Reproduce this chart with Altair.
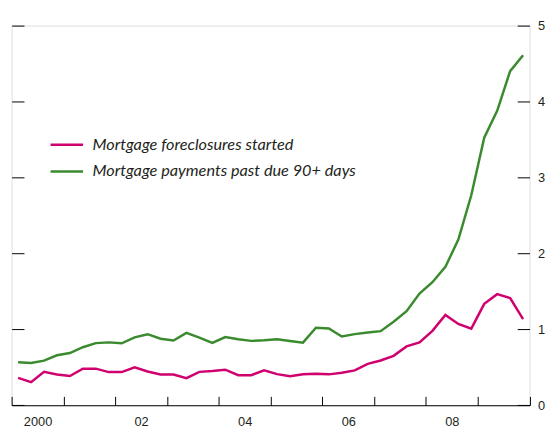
import altair as alt
import pandas as pd

quarters = [f"{y}Q{q}" for y in range(2000, 2010) for q in range(1, 5)]

foreclosures = [0.36, 0.305, 0.44, 0.406, 0.385, 0.482, 0.482, 0.437, 0.437, 0.50,
                0.445, 0.405, 0.405, 0.358, 0.44, 0.45, 0.468, 0.396, 0.396, 0.459,
                0.41, 0.381, 0.407, 0.416, 0.407, 0.429, 0.459, 0.545, 0.589, 0.651,
                0.775, 0.829, 0.98, 1.19, 1.07, 1.009, 1.335, 1.463, 1.411, 1.134]

past_due = [0.567, 0.556, 0.588, 0.658, 0.688, 0.764, 0.818, 0.828, 0.816, 0.895,
            0.936, 0.876, 0.853, 0.952, 0.890, 0.822, 0.898, 0.870, 0.848, 0.855,
            0.868, 0.846, 0.825, 1.02, 1.011, 0.905, 0.937, 0.957, 0.976, 1.10,
            1.238, 1.472, 1.62, 1.822, 2.182, 2.766, 3.523, 3.878, 4.40, 4.61]

series_names = ["Mortgage foreclosures started", "Mortgage payments past due 90+ days"]
series_colors = ["#d1006f", "#3a8a2e"]


def q_to_year(q):
    y, n = q.split("Q")
    return int(y) + (int(n) - 0.5) / 4


rows = []
for name, vals in zip(series_names, [foreclosures, past_due]):
    for q, v in zip(quarters, vals):
        rows.append({"t": q_to_year(q), "value": v, "series": name})
df = pd.DataFrame(rows)

W, H = 525.6, 385.3
FONT = "Liberation Sans"

xscale = alt.Scale(domain=[2000, 2010], nice=False, zero=False)
yscale = alt.Scale(domain=[0, 5], nice=False)

x_label_axis = alt.Axis(
    orient="bottom", values=list(range(2000, 2011)), ticks=False, tickSize=0,
    domain=True, domainColor="#000000", domainWidth=1,
    labelExpr="datum.value % 2 == 0 && datum.value < 2010 ? (datum.value == 2000 ? '2000' : '0' + (datum.value - 2000)) : ''",
    labelOffset=W / 20, labelPadding=11, labelFlush=False, labelOverlap=False,
    labelFont=FONT, labelFontSize=13, labelColor="#231f20", grid=False, title=None,
)
x_tick_axis = alt.Axis(
    orient="bottom", values=list(range(2000, 2011)), ticks=True, tickSize=9,
    tickColor="#000000", tickWidth=1, offset=-9, domain=False, labels=False,
    grid=False, title=None,
)
y_left_axis = alt.Axis(
    orient="left", values=[0, 1, 2, 3, 4, 5], ticks=True, tickSize=12.5,
    tickColor="#000000", tickWidth=1, offset=-12.5, domain=False, labels=False,
    grid=False, title=None,
)
y_right_axis = alt.Axis(
    orient="right", values=[0, 1, 2, 3, 4, 5], ticks=True, tickSize=12.5,
    tickColor="#000000", tickWidth=1, offset=-12.5, domain=False, labels=True,
    labelPadding=8, labelFont=FONT, labelFontSize=13, labelColor="#231f20",
    grid=False, title=None,
)

lines = alt.Chart(df).mark_line(strokeWidth=2.5).encode(
    x=alt.X("t:Q", scale=xscale, axis=x_label_axis),
    y=alt.Y("value:Q", scale=yscale, axis=y_left_axis),
    color=alt.Color(
        "series:N",
        scale=alt.Scale(domain=series_names, range=series_colors),
        legend=alt.Legend(
            title=None, orient="none", legendX=38, legendY=103,
            symbolType="stroke", symbolSize=1089, symbolStrokeWidth=2.5,
            labelFont="Lato", labelFontStyle="italic", labelFontSize=16.5,
            labelColor="#231f20", labelOffset=8, labelLimit=500,
            rowPadding=0, padding=0,
        ),
    ),
    detail="series:N",
)

ghost = alt.Chart(df).mark_line(strokeOpacity=0).encode(
    x=alt.X("t:Q", scale=xscale, axis=x_tick_axis),
    y=alt.Y("value:Q", scale=yscale, axis=y_right_axis),
    detail="series:N",
)

chart = alt.layer(lines, ghost).resolve_axis(x="independent", y="independent").properties(
    width=W, height=H,
    autosize=alt.AutoSizeParams(type="none"),
    padding={"left": 3.7, "top": 14.7, "right": 16.7, "bottom": 25},
).configure_view(stroke=None).configure(background="#ffffff")

chart.save("out.html", embed_options={"renderer": "svg", "actions": False})
